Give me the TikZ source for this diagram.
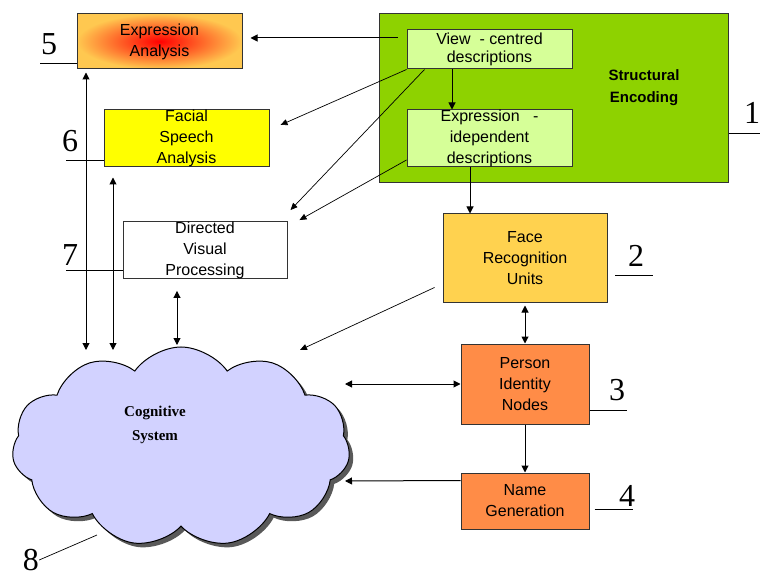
\documentclass[tikz,border=0pt]{standalone}
\usepackage{fontspec}
\setmainfont{Liberation Sans}
\newfontfamily\labelfont{Liberation Serif}
\usetikzlibrary{arrows.meta,shapes.symbols,shadows}

\definecolor{exprorange}{HTML}{FFC850}
\definecolor{facialyellow}{HTML}{FFFF00}
\definecolor{segreen}{HTML}{8ED200}
\definecolor{descgreen}{HTML}{D6FF98}
\definecolor{fruyellow}{HTML}{FFD24F}
\definecolor{pinorange}{HTML}{FF8C47}
\definecolor{cloudblue}{HTML}{D2D2FF}

\begin{document}
\begin{tikzpicture}[x=1pt, y=-1pt,
    box/.style={draw=black!80, line width=1pt, align=center, inner sep=0pt,
        font=\fontsize{16}{21}\selectfont},
    arr/.style={-{Triangle[length=7pt,width=7pt]}, line width=1pt},
    twoway/.style={{Triangle[length=7pt,width=7pt]}-{Triangle[length=7pt,width=7pt]}, line width=1pt},
    thin arr/.style={-{Triangle[length=7pt,width=6pt]}, line width=0.7pt},
    num/.style={font=\labelfont\fontsize{32}{32}\selectfont, inner sep=0pt},
    lead/.style={line width=1pt}]
    \useasboundingbox (0,0) rectangle (760,577);

    % Structural encoding
    \node[box, fill=segreen, minimum width=349pt, minimum height=169pt] (se) at (553.5,98.5) {};
    \node[font=\bfseries\fontsize{15}{22}\selectfont, align=center] (setext) at (644,88) {Structural\\Encoding};
    \node[box, fill=descgreen, minimum width=165pt, minimum height=39pt, font=\fontsize{16}{18}\selectfont] (view) at (489.5,49.5) {View\ \ - centred\\descriptions};
    \node[box, fill=descgreen, minimum width=165pt, minimum height=57pt] (indep) at (489.5,138.5) {Expression\ \ \ -\\idependent\\descriptions};

    % Functional boxes
    \node[box, inner color=red, outer color=exprorange, minimum width=165pt, minimum height=55pt] (expr) at (159.5,41.5) {Expression\\Analysis};
    \node[box, fill=facialyellow, minimum width=165pt, minimum height=57pt] (facial) at (186.5,138.5) {Facial\\Speech\\Analysis};
    \node[box, fill=white, minimum width=164pt, minimum height=56pt] (dvp) at (205,250) {Directed\\Visual\\Processing};
    \node[box, fill=fruyellow, minimum width=164pt, minimum height=88pt] (fru) at (525,258) {Face\\Recognition\\Units};
    \node[box, fill=pinorange, minimum width=128pt, minimum height=80pt] (pin) at (525,384) {Person\\Identity\\Nodes};
    \node[box, fill=pinorange, minimum width=128pt, minimum height=56pt] (name) at (525,501) {Name\\Generation};

    % Cognitive system
    \node[cloud, cloud puffs=11, cloud puff arc=110, cloud ignores aspect, draw, line width=1pt,
        fill=cloudblue, minimum width=338pt, minimum height=200pt,
        drop shadow={shadow xshift=4pt, shadow yshift=-4pt, fill=black!65, opacity=1}] (cog) at (181,447) {};
    \node[font=\labelfont\bfseries\fontsize{15}{24}\selectfont, align=center] (cogtext) at (155,425) {Cognitive\\System};
    \coordinate (cogA) at (86,350);
    \coordinate (cogB) at (113,350);
    \coordinate (cogC) at (177,345);
    \coordinate (cogD) at (300,350);
    \coordinate (cogE) at (345,384);
    \coordinate (cogF) at (345,481);

    % Connections
    \draw[arr, shorten <=9pt, shorten >=8pt] ([yshift=11.5pt]view.west) -- ([yshift=11.5pt]view.west -| expr.east);
    \draw[thin arr] (view.south west) -- ([xshift=11pt,yshift=13.5pt]facial.east);
    \draw[thin arr] ([xshift=18pt]view.south west) -- ([xshift=3pt,yshift=11pt]dvp.north east);
    \draw[thin arr] ([yshift=-21.5pt]indep.west) -- ([xshift=12pt,yshift=1pt]dvp.north east);
    \draw[arr] ([xshift=-37.5pt]view.south) -- ([xshift=-37.5pt]indep.north);
    \draw[arr] ([xshift=-55pt]fru.north |- indep.south) -- ([xshift=-55pt]fru.north);
    \draw[twoway, shorten <=3pt] (fru.south) -- (pin.north);
    \draw[arr] (pin.south) -- (name.north);
    \draw[thin arr] ([xshift=-8pt,yshift=15pt]fru.south west) -- (cogD);
    \draw[twoway] (pin.west) -- (cogE);
    \draw[arr] ([yshift=-8pt]name.north west) -- (cogF);
    \draw[twoway, shorten <=3pt] (cogA |- expr.south) -- (cogA);
    \draw[twoway, shorten <=10pt] (cogB |- facial.south) -- (cogB);
    \draw[twoway, shorten <=12pt] (cogC |- dvp.south) -- (cogC);

    % Numbered labels
    \node[num] (n1) at (752,113) {1};
    \draw[lead] ([yshift=-35.5pt]se.east) -- ++(32,0);
    \node[num] (n2) at (636,256) {2};
    \coordinate (n2a) at (615,276);
    \draw[lead] (n2a) -- ++(38,0);
    \node[num] (n3) at (617,390) {3};
    \draw[lead] ([yshift=-26pt]pin.east) -- ++(37,0);
    \node[num] (n4) at (627,496) {4};
    \draw[lead] ([xshift=5pt,yshift=-8pt]name.east) -- ++(38,0);
    \node[num] (n5) at (49,44) {5};
    \draw[lead] ([yshift=6pt]expr.south west) -- ++(-37,0);
    \node[num] (n6) at (70,141) {6};
    \draw[lead] ([yshift=7pt]facial.south west) -- ++(-38,0);
    \node[num] (n7) at (70,255) {7};
    \draw[lead] ([yshift=8pt]dvp.south west) -- ++(-57,0);
    \node[num] (n8) at (31,560) {8};
    \draw[line width=0.7pt] (n8.east) -- (97,535);
\end{tikzpicture}
\end{document}
